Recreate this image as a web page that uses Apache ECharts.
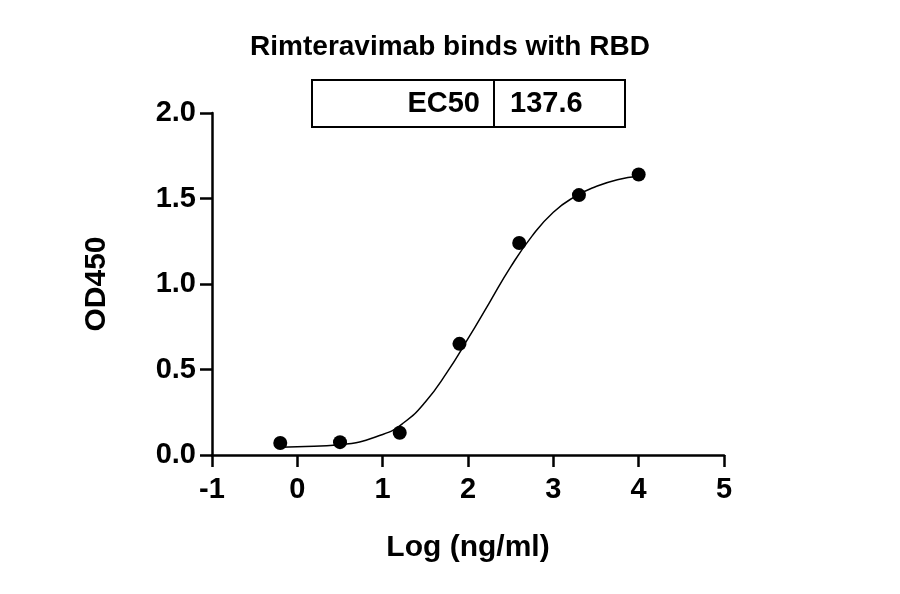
<!DOCTYPE html>
<html>
<head>
<meta charset="utf-8">
<script src="https://cdn.jsdelivr.net/npm/echarts@6/dist/echarts.min.js"></script>
<style>html,body{margin:0;background:#fff}#chart{width:900px;height:594px}</style>
</head>
<body>
<div id="chart"></div>
<script>
// measured points
const pointX = [-0.2, 0.5, 1.2, 1.9, 2.6, 3.3, 4.0];
const pointY = [0.07, 0.075, 0.13, 0.65, 1.24, 1.52, 1.64];
// fitted curve
const curveX = [-0.2, 0, 0.5, 1, 1.25, 1.5, 1.75, 2, 2.25, 2.5, 2.75, 3, 3.25, 3.5, 3.75, 4];
const curveY = [0.045, 0.048, 0.06, 0.12, 0.19, 0.31, 0.48, 0.68, 0.89, 1.1, 1.28, 1.42, 1.51, 1.57, 1.61, 1.63];
const ec50Label = 'EC50';
const ec50Value = '137.6';

const font = 'Liberation Sans, Arial, sans-serif';
const chart = echarts.init(document.getElementById('chart'));
chart.setOption({
  animation: false,
  title: {
    text: 'Rimteravimab binds with RBD',
    left: 'center', top: 28,
    textStyle: { fontFamily: font, fontSize: 28, fontWeight: 'bold', color: '#000' }
  },
  grid: { left: 212, right: 176, top: 113, bottom: 139 },
  xAxis: {
    type: 'value', min: -1, max: 5, interval: 1,
    name: 'Log (ng/ml)', nameLocation: 'middle', nameGap: 78,
    nameTextStyle: { fontFamily: font, fontSize: 30, fontWeight: 'bold', color: '#000' },
    axisLine: { lineStyle: { color: '#000', width: 2.5 } },
    axisTick: { show: true, length: 12, lineStyle: { color: '#000', width: 2.5 } },
    axisLabel: { fontFamily: font, fontSize: 29, fontWeight: 'bold', color: '#000', margin: 20 },
    splitLine: { show: false }
  },
  yAxis: {
    type: 'value', min: 0, max: 2, interval: 0.5,
    name: 'OD450', nameLocation: 'middle', nameGap: 100,
    nameTextStyle: { fontFamily: font, fontSize: 30, fontWeight: 'bold', color: '#000' },
    axisLine: { show: true, onZero: false, lineStyle: { color: '#000', width: 2.5 } },
    axisTick: { show: true, length: 12, lineStyle: { color: '#000', width: 2.5 } },
    axisLabel: { fontFamily: font, fontSize: 29, fontWeight: 'bold', color: '#000', margin: 16,
      formatter: v => v.toFixed(1) },
    splitLine: { show: false }
  },
  series: [
    {
      type: 'line', smooth: true, symbol: 'none',
      lineStyle: { color: '#000', width: 1.5 },
      data: curveX.map((x, i) => [x, curveY[i]])
    },
    {
      type: 'scatter', symbolSize: 14,
      itemStyle: { color: '#000', opacity: 1 },
      data: pointX.map((x, i) => [x, pointY[i]])
    }
  ],
  graphic: [
    { type: 'rect', shape: { x: 312, y: 80, width: 313, height: 47 },
      style: { fill: 'none', stroke: '#000', lineWidth: 2 } },
    { type: 'line', shape: { x1: 494, y1: 80, x2: 494, y2: 127 },
      style: { stroke: '#000', lineWidth: 2 } },
    { type: 'text', x: 480, y: 104,
      style: { text: ec50Label, align: 'right', verticalAlign: 'middle',
        font: 'bold 29px ' + font, fill: '#000' } },
    { type: 'text', x: 510, y: 104,
      style: { text: ec50Value, align: 'left', verticalAlign: 'middle',
        font: 'bold 29px ' + font, fill: '#000' } }
  ]
});
</script>
</body>
</html>
